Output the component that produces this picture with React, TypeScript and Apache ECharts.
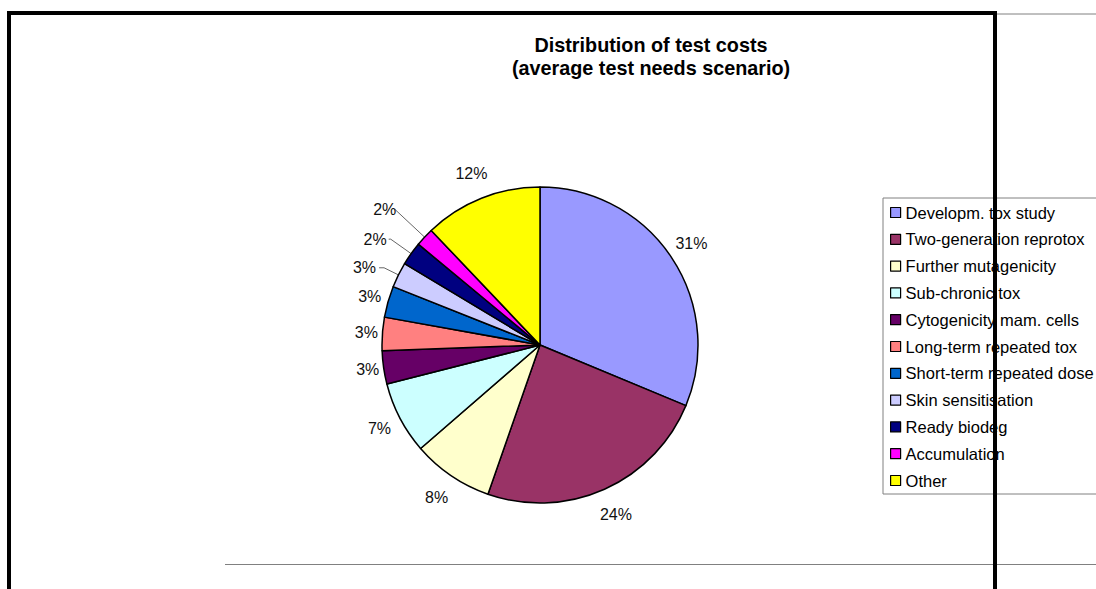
import React, { useEffect, useRef } from "react";
import * as echarts from "echarts";

const categories = [
  "Developm. tox study",
  "Two-generation reprotox",
  "Further mutagenicity",
  "Sub-chronic tox",
  "Cytogenicity mam. cells",
  "Long-term repeated tox",
  "Short-term repeated dose",
  "Skin sensitisation",
  "Ready biodeg",
  "Accumulation",
  "Other",
];
const shares = [31.3, 24.1, 8.3, 7.4, 3.4, 3.4, 3.2, 2.6, 2.4, 1.9, 12.1];
const colors = [
  "#9999FF",
  "#993366",
  "#FFFFCC",
  "#CCFFFF",
  "#660066",
  "#FF8080",
  "#0066CC",
  "#CCCCFF",
  "#000080",
  "#FF00FF",
  "#FFFF00",
];

// label placement styles (per slice)
const labelCfg = [
  { len: 24, len2: 0, dist: -16, line: false },
  { len: 28, len2: 0, dist: -16, line: false },
  { len: 26, len2: 0, dist: -11.5, line: false },
  { len: 23, len2: 0, dist: -11.5, line: false },
  { len: 16, len2: 0, dist: -11.5, line: false },
  { len: 16, len2: 0, dist: -11.5, line: false },
  { len: 19, len2: 0, dist: -11.5, line: false },
  { len: 16, len2: 5, dist: 3, line: true },
  { len: 25, len2: 2, dist: 2, line: true },
  { len: 40, len2: 1, dist: -2, line: true },
  { len: 27, len2: 0, dist: -16, line: false },
];

const FONT = "'Liberation Sans', Arial, Helvetica, sans-serif";

export default function App() {
  const ref = useRef<HTMLDivElement>(null);
  useEffect(() => {
    if (!ref.current) return;
    const chart = echarts.init(ref.current, null, { renderer: "svg" });
    const data = categories.map((name, i) => ({
      name,
      value: shares[i],
      itemStyle: { color: colors[i] },
      label: { distanceToLabelLine: labelCfg[i].dist },
      labelLine: {
        show: labelCfg[i].line,
        length: labelCfg[i].len,
        length2: labelCfg[i].len2,
      },
    }));
    chart.setOption({
      animation: false,
      backgroundColor: "#ffffff",
      title: {
        text: "Distribution of test costs\n(average test needs scenario)",
        left: 651,
        top: 33,
        padding: 0,
        textAlign: "center",
        textStyle: {
          fontFamily: FONT,
          fontSize: 19.8,
          fontWeight: "bold",
          lineHeight: 23,
          color: "#000",
        },
      },
      legend: {
        orient: "vertical",
        left: 883,
        top: 198,
        padding: [6, 26, 5, 7],
        itemWidth: 10,
        itemHeight: 10,
        itemGap: 9.8,
        icon: "rect",
        selectedMode: false,
        borderColor: "#808080",
        borderWidth: 1,
        backgroundColor: "#fff",
        itemStyle: { borderColor: "#000", borderWidth: 1.2 },
        textStyle: {
          fontFamily: FONT,
          fontSize: 16.5,
          lineHeight: 16,
          color: "#000",
        },
        data: categories,
      },
      series: [
        {
          type: "pie",
          center: [540, 345],
          radius: 158,
          startAngle: 90,
          clockwise: true,
          avoidLabelOverlap: false,
          itemStyle: { borderColor: "#000", borderWidth: 1.5 },
          emphasis: { disabled: true },
          label: {
            show: true,
            position: "outside",
            fontFamily: FONT,
            fontSize: 16,
            color: "#111",
            formatter: (p: any) => Math.round(p.percent) + "%",
          },
          labelLine: {
            lineStyle: { color: "#666", width: 1 },
          },
          data,
        },
      ],
      graphic: [
        {
          type: "line",
          z: 50,
          shape: { x1: 225, y1: 14, x2: 1096, y2: 14 },
          style: { stroke: "#808080", lineWidth: 1 },
        },
        {
          type: "line",
          z: 50,
          shape: { x1: 225, y1: 564.5, x2: 1096, y2: 564.5 },
          style: { stroke: "#808080", lineWidth: 1 },
        },
        {
          type: "rect",
          z: 100,
          shape: { x: 9, y: 13, width: 986, height: 620 },
          style: { fill: "none", stroke: "#000", lineWidth: 4 },
        },
      ],
    });
    return () => chart.dispose();
  }, []);
  return (
    <div
      ref={ref}
      style={{ position: "absolute", left: 0, top: 0, width: 1096, height: 589 }}
    />
  );
}
